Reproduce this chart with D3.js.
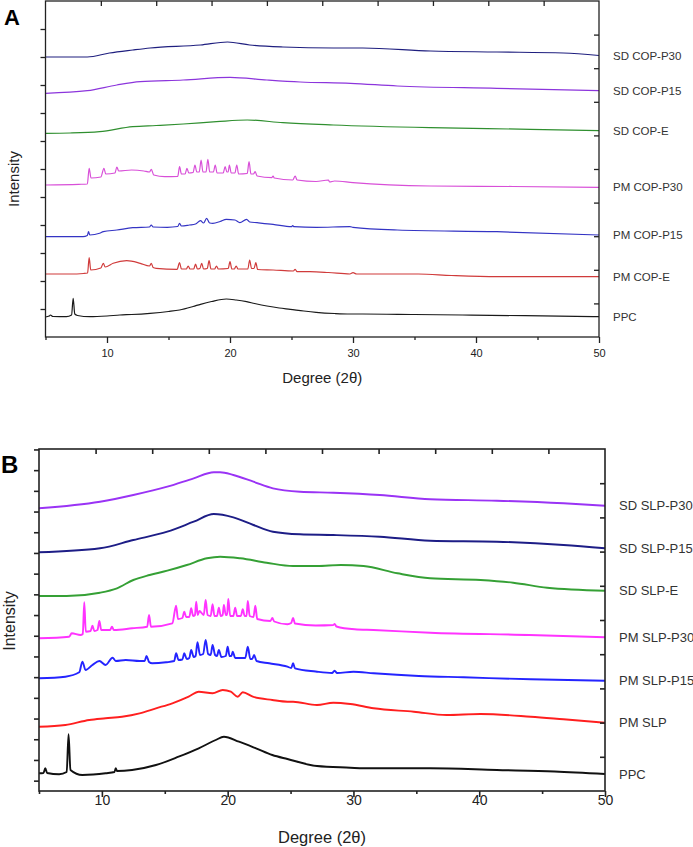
<!DOCTYPE html>
<html>
<head>
<meta charset="utf-8">
<script src="https://cdnjs.cloudflare.com/ajax/libs/d3/7.8.5/d3.min.js"></script>
<style>
  body { margin: 0; background: #fff; }
  text { font-family: Arial, "Liberation Sans", sans-serif; }
</style>
</head>
<body>
<svg id="chart"></svg>
<script>
// x tick labels, shared by both panels
var xTicks = [10, 20, 30, 40, 50];
var xMinor = [5, 15, 25, 35, 45];

// ---- panel A: [2theta, intensity (a.u., stacked)] ----
var labelsA = ['SD COP-P30', 'SD COP-P15', 'SD COP-E', 'PM COP-P30', 'PM COP-P15', 'PM COP-E', 'PPC'];
var colorsA = ['#1f1f7f', '#8c35dc', '#2f8f2f', '#d84fd8', '#3434c4', '#d03b3b', '#1a1a1a'];

var sdCopP30 = [[5,280],[8.4,280],[10.2,284],[12.1,287],[13.5,289],[17.6,292],[19.8,295],[21.6,292],[24.3,290],[28.4,289],[30.8,289],[36.3,286],[41.7,285],[47.1,284],[50,281.5]];
var sdCopP15 = [[5,243.7],[8.4,246.3],[10.8,252],[12.7,255.3],[16.2,257],[20,259.7],[23,257],[25.7,255],[29.8,253.7],[33.6,251],[41.7,248.7],[50,246.3]];
var sdCopE = [[5,203.7],[7,204],[9.4,205.3],[12.1,210.3],[14,211.5],[16.2,213],[18.9,215.3],[21.4,217],[24.3,214.3],[28.4,212],[36.3,209.3],[44.4,207.7],[50,206.3]];
var pmCopP30 = [[5,152],[7.7,152.7],[8.4,153],[8.55,168.7],[8.7,159],[9.5,160],[9.75,168.7],[9.9,163],[10.65,164],[10.8,170],[10.95,166],[12,167],[13,166],[13.45,165],[13.6,167.7],[13.8,162],[14.7,160.3],[15.75,160.5],[15.9,170.3],[16.05,163],[16.35,163],[16.5,168.7],[16.65,164],[17,164.5],[17.15,172],[17.3,165],[17.5,165],[17.65,177],[17.8,165],[18.05,165],[18.2,177.7],[18.35,165],[18.65,165],[18.8,172],[18.95,164],[19.45,164],[19.6,170.3],[19.75,165],[19.85,165],[19.95,172],[20.1,164],[20.4,164],[20.55,172],[20.7,163],[21.4,163.5],[21.55,175.3],[21.7,163],[21.9,163],[22.05,165.3],[22.2,161],[23.4,159.3],[23.5,161],[23.6,159],[25.1,157],[25.3,161],[25.45,157],[27,155.5],[28,157],[28.1,155],[28.5,156],[30,154.3],[36.3,151],[43,150.5],[50,149.7]];
var pmCopP15 = [[5,100.3],[8.05,100.3],[8.4,101.5],[8.5,105.3],[8.6,102],[9.4,103.7],[9.7,105.3],[10.8,107],[12.1,109.3],[13.45,110],[13.6,112],[13.75,110],[14.9,109.7],[15.75,110.5],[15.9,113.7],[16.05,111],[16.7,112],[17.2,113],[17.6,116.3],[17.85,114],[18.1,118.7],[18.35,114],[18.6,113.7],[19.2,115.5],[19.7,117.7],[20.4,117],[20.8,114.3],[21.35,117.7],[21.6,115],[22.2,114.3],[23.5,112.7],[25,110.3],[25.1,111.5],[25.2,110.3],[27,109.7],[29.75,110.3],[30,109.7],[33.6,107],[41.7,105.3],[50,102]];
var pmCopE = [[5,63],[7,63],[8.1,63.5],[8.42,64],[8.55,79.3],[8.68,67],[9.5,69],[9.7,73.7],[9.85,70],[10.5,73.7],[11.6,76.3],[12.7,73.7],[13.45,71],[13.6,73.7],[13.75,69.5],[14,68.7],[15.7,67.7],[15.9,74.3],[16.05,68],[16.45,68],[16.6,71],[16.75,68],[17.05,68],[17.2,73],[17.35,68],[17.55,68.5],[17.7,73.7],[17.85,68],[18.15,68.5],[18.3,76.3],[18.45,68],[18.75,68],[18.9,71],[19.05,68],[19.85,68.5],[20,75.3],[20.15,68],[20.35,68],[20.5,71],[20.65,68],[21.45,68],[21.6,77],[21.75,68.5],[21.95,68.5],[22.1,74.3],[22.25,67.5],[23.5,67],[25.15,66],[25.3,67.7],[25.45,65.3],[26.5,65.3],[28,64.5],[29.75,63],[30,64.3],[30.3,63],[35.3,63],[38,61.5],[41.7,60.3],[50,60.3]];
var ppcA = [[5,20],[5.3,21],[5.4,22],[5.6,20.5],[6.7,20.3],[7.12,22],[7.25,38.7],[7.38,23],[7.6,21.5],[8.6,20.3],[10,21],[11.05,22],[12,22.5],[13.5,23.7],[15,25.5],[15.9,27],[17,30.5],[17.6,32.7],[18.5,35.5],[19.7,38],[20.5,37],[21.35,35.3],[22,33.5],[23,31],[24,29],[24.9,27.7],[26,26],[27,24.7],[28.5,23.5],[29.75,23],[30.8,23],[35,22.5],[38.9,22],[44,21.3],[50,20.3]];

// ---- panel B ----
var labelsB = ['SD SLP-P30', 'SD SLP-P15', 'SD SLP-E', 'PM SLP-P30', 'PM SLP-P15', 'PM SLP', 'PPC'];
var colorsB = ['#9a33f5', '#1d1d86', '#35a035', '#ff33ff', '#2424ff', '#ff1f1f', '#111111'];

var sdSlpP30 = [[5,282.7],[9.85,289.3],[12.5,296],[15.2,304.3],[17.3,312.7],[18.9,318.7],[19.4,318.7],[20.45,316],[22.05,309.3],[23.6,302.7],[25.75,299.3],[28.4,298.3],[32.1,296],[36.1,291.7],[41.4,290.3],[46.7,287.7],[50,285.3]];
var sdSlpP15 = [[5,238.7],[9.85,242.7],[12.5,251],[15.2,259.3],[17.3,269.3],[18.9,277],[20.45,273.7],[22.05,266],[23.6,259.3],[25.75,256.7],[28.4,256],[32.1,254.3],[36.1,250.3],[41.4,249.3],[46.7,246],[50,242.7]];
var sdSlpE = [[5,195],[7.2,195],[9.85,198.3],[11.2,202.7],[12.5,211],[13.8,216],[15.2,220.3],[16.75,226],[18.35,232.7],[19.4,234.3],[21,232.7],[23.1,228.3],[25.2,225],[27.1,225],[29,226],[30.8,225],[33.5,217.7],[36.1,212.7],[40.1,211],[42.7,208.3],[45.4,203.3],[50,200.3]];
var pmSlpP30 = [[5,152.7],[7.4,154.3],[7.6,157.7],[8.3,156],[8.48,157],[8.6,188.7],[8.72,159.3],[9.1,160],[9.25,165.3],[9.4,160],[9.65,161],[9.8,170],[9.95,161],[10.65,161],[10.8,164.3],[10.95,161],[12.4,162.7],[13.6,164.3],[13.75,176],[13.9,164.3],[15.6,167.7],[15.9,185.3],[16.05,172],[16.4,173],[16.55,179.3],[16.7,174],[16.95,174],[17.1,182.7],[17.25,175],[17.4,176],[17.5,189.3],[17.62,176],[17.75,180],[18.1,176],[18.25,191],[18.4,176],[18.65,175],[18.8,186.7],[18.95,175],[19.15,175],[19.3,183.3],[19.45,175],[19.6,176],[19.7,186],[19.85,176],[19.95,176],[20.05,192],[20.2,175],[20.45,175],[20.6,183.3],[20.75,175],[21.05,175],[21.2,181.7],[21.35,175],[21.5,175],[21.6,190],[21.75,175],[22.05,174],[22.2,185.3],[22.35,172],[23.4,170],[23.55,173],[23.7,169.5],[24.75,166.7],[25.05,168],[25.2,173],[25.35,167.5],[27,165.5],[28.4,166],[28.5,167],[28.65,164.5],[30.1,161.7],[31.6,161],[36.1,158.3],[44,156],[50,153.7]];
var pmSlpP15 = [[5,112.7],[7.1,114.3],[8.2,118.7],[8.45,129.3],[8.7,121],[9.25,126],[9.8,130],[10.3,126],[10.85,133.3],[11.1,130],[11.9,131],[13,130],[13.4,130],[13.55,135],[13.75,129],[14,127.7],[15.1,128.7],[15.75,130],[15.9,137.7],[16.1,131],[16.4,131.5],[16.55,137.7],[16.75,132],[16.95,133],[17.1,141],[17.3,134],[17.45,135],[17.6,148.7],[17.8,136],[18.05,137],[18.25,151],[18.45,137],[18.65,136],[18.8,146],[19,136],[19.15,135],[19.3,141],[19.5,134],[19.85,135],[20,144.3],[20.15,135],[20.3,135],[20.4,139.3],[20.6,133],[21.4,133],[21.6,144.3],[21.8,132],[21.95,132],[22.1,136],[22.3,130],[23.3,127.7],[24.75,124.3],[25.05,123],[25.2,127.7],[25.35,122.7],[27,119.5],[28.3,118],[28.5,120.3],[28.7,118],[30,119.3],[31.6,117.7],[35.2,115],[38.75,113.7],[44.1,111.7],[50,110.3]];
var pmSlp = [[5,64.3],[7.1,66],[9,71],[10.3,72.7],[11.6,74.3],[13,77.7],[14.3,82.7],[15.6,87.7],[16.9,94.3],[17.7,99.3],[18.8,97.7],[19.6,101],[20.25,99.3],[20.8,94.3],[21.2,98.7],[22,94.3],[23.55,91],[24.75,89.3],[25.2,89.3],[27.1,86],[28.4,88.3],[29.75,87],[31.6,82.7],[34.8,79.3],[37.4,76],[40.1,77],[44.1,74.3],[46.7,71.7],[50,68.3]];
var ppcB = [[5,17.7],[5.35,18],[5.5,22.7],[5.65,18],[6.6,16.7],[7.2,19],[7.35,56.7],[7.5,21],[8.45,16],[10.3,17.7],[11,19],[11.1,22.7],[11.2,20],[12.4,21],[14.3,26],[16.1,34.3],[17.7,42.7],[19.05,51],[19.7,54.3],[20.9,49.3],[22.25,42.7],[23.55,36],[24.75,32],[27.1,25],[29.75,23.3],[30.8,22.7],[36.1,22.7],[41.4,21],[46,19.5],[50,17]];

var svg = d3.select('#chart').attr('width', 693).attr('height', 847);

function drawPanel(p) {
  var x = d3.scaleLinear().domain([5, 50]).range([p.left, p.right]);
  var y = d3.scaleLinear().domain([0, p.bottom - p.top]).range([p.bottom, p.top]);
  var g = svg.append('g');

  var line = d3.line()
    .x(d => x(d[0]))
    .y(d => y(d[1]))
    .curve(d3.curveMonotoneX);

  p.series.forEach(function(s, i) {
    g.append('path')
      .datum(s)
      .attr('d', line)
      .style('fill', 'none')
      .style('stroke', p.colors[i])
      .style('stroke-width', p.lineWidth)
      .style('stroke-linejoin', 'round');

    g.append('text')
      .attr('x', p.right + 14)
      .attr('y', y(s[s.length - 1][1]))
      .attr('dy', '0.35em')
      .style('font-size', p.labelSize + 'px')
      .style('fill', '#333')
      .text(p.labels[i]);
  });

  // frame
  g.append('rect')
    .attr('x', p.left).attr('y', p.top)
    .attr('width', p.right - p.left).attr('height', p.bottom - p.top)
    .style('fill', 'none')
    .style('stroke', '#222')
    .style('stroke-width', p.frameWidth);

  function clean(sel) {
    sel.select('.domain').remove();
    sel.selectAll('line').style('stroke', '#222').style('stroke-width', p.frameWidth);
  }

  var bottom = g.append('g')
    .attr('transform', `translate(0, ${p.bottom})`)
    .call(d3.axisBottom(x).tickValues(xTicks).tickSize(6))
    .call(clean);
  bottom.selectAll('.tick text')
    .attr('y', p.tickLabelY)
    .attr('dy', 0)
    .style('font-size', p.tickFont + 'px')
    .style('font-family', 'Arial, "Liberation Sans", sans-serif')
    .style('fill', '#222');

  g.append('g')
    .attr('transform', `translate(0, ${p.bottom})`)
    .call(d3.axisBottom(x).tickValues(xMinor).tickSize(3).tickFormat(''))
    .call(clean);

  g.append('g')
    .attr('transform', `translate(0, ${p.top})`)
    .call(d3.axisTop(x).tickValues(d3.range(9.5, 50, 4.5)).tickSize(-5).tickFormat(''))
    .call(clean);

  g.append('g')
    .attr('transform', `translate(${p.left}, 0)`)
    .call(d3.axisLeft(y).tickValues(p.leftTicks).tickSize(5).tickFormat(''))
    .call(clean);

  g.append('g')
    .attr('transform', `translate(${p.right}, 0)`)
    .call(d3.axisRight(y).tickValues(p.rightTicks).tickSize(-5).tickFormat(''))
    .call(clean);

  g.append('text')
    .attr('x', (p.left + p.right) / 2)
    .attr('y', p.titleY)
    .attr('text-anchor', 'middle')
    .style('font-size', p.titleSize + 'px')
    .style('fill', '#222')
    .text('Degree (2θ)');

  g.append('text')
    .attr('transform', `translate(${p.yTitleX}, ${p.yTitleY}) rotate(-90)`)
    .attr('text-anchor', 'middle')
    .style('font-size', p.yTitleSize + 'px')
    .style('fill', '#222')
    .text('Intensity');

  g.append('text')
    .attr('x', p.letterX)
    .attr('y', p.letterY)
    .style('font-size', p.letterSize + 'px')
    .style('font-weight', 'bold')
    .style('fill', '#000')
    .text(p.letter);
}

drawPanel({
  left: 45.5, right: 599, top: 1, bottom: 337,
  series: [sdCopP30, sdCopP15, sdCopE, pmCopP30, pmCopP15, pmCopE, ppcA],
  labels: labelsA, colors: colorsA,
  lineWidth: 1.2, frameWidth: 1.3, labelSize: 11.5,
  leftTicks: d3.range(28, 336, 28),
  rightTicks: d3.range(33.6, 336, 33.6),
  tickFont: 11, tickLabelY: 20,
  titleY: 383, titleSize: 15,
  yTitleX: 19, yTitleY: 179, yTitleSize: 15,
  letter: 'A', letterX: 4, letterY: 25, letterSize: 22
});

drawPanel({
  left: 39, right: 605, top: 449, bottom: 791,
  series: [sdSlpP30, sdSlpP15, sdSlpE, pmSlpP30, pmSlpP15, pmSlp, ppcB],
  labels: labelsB, colors: colorsB,
  lineWidth: 1.9, frameWidth: 1.6, labelSize: 13,
  leftTicks: d3.range(10.35, 342, 20.7),
  rightTicks: d3.range(34.2, 342, 34.2),
  tickFont: 14, tickLabelY: 14,
  titleY: 843, titleSize: 16.5,
  yTitleX: 15, yTitleY: 621, yTitleSize: 16,
  letter: 'B', letterX: 1, letterY: 473, letterSize: 24
});
</script>
</body>
</html>
